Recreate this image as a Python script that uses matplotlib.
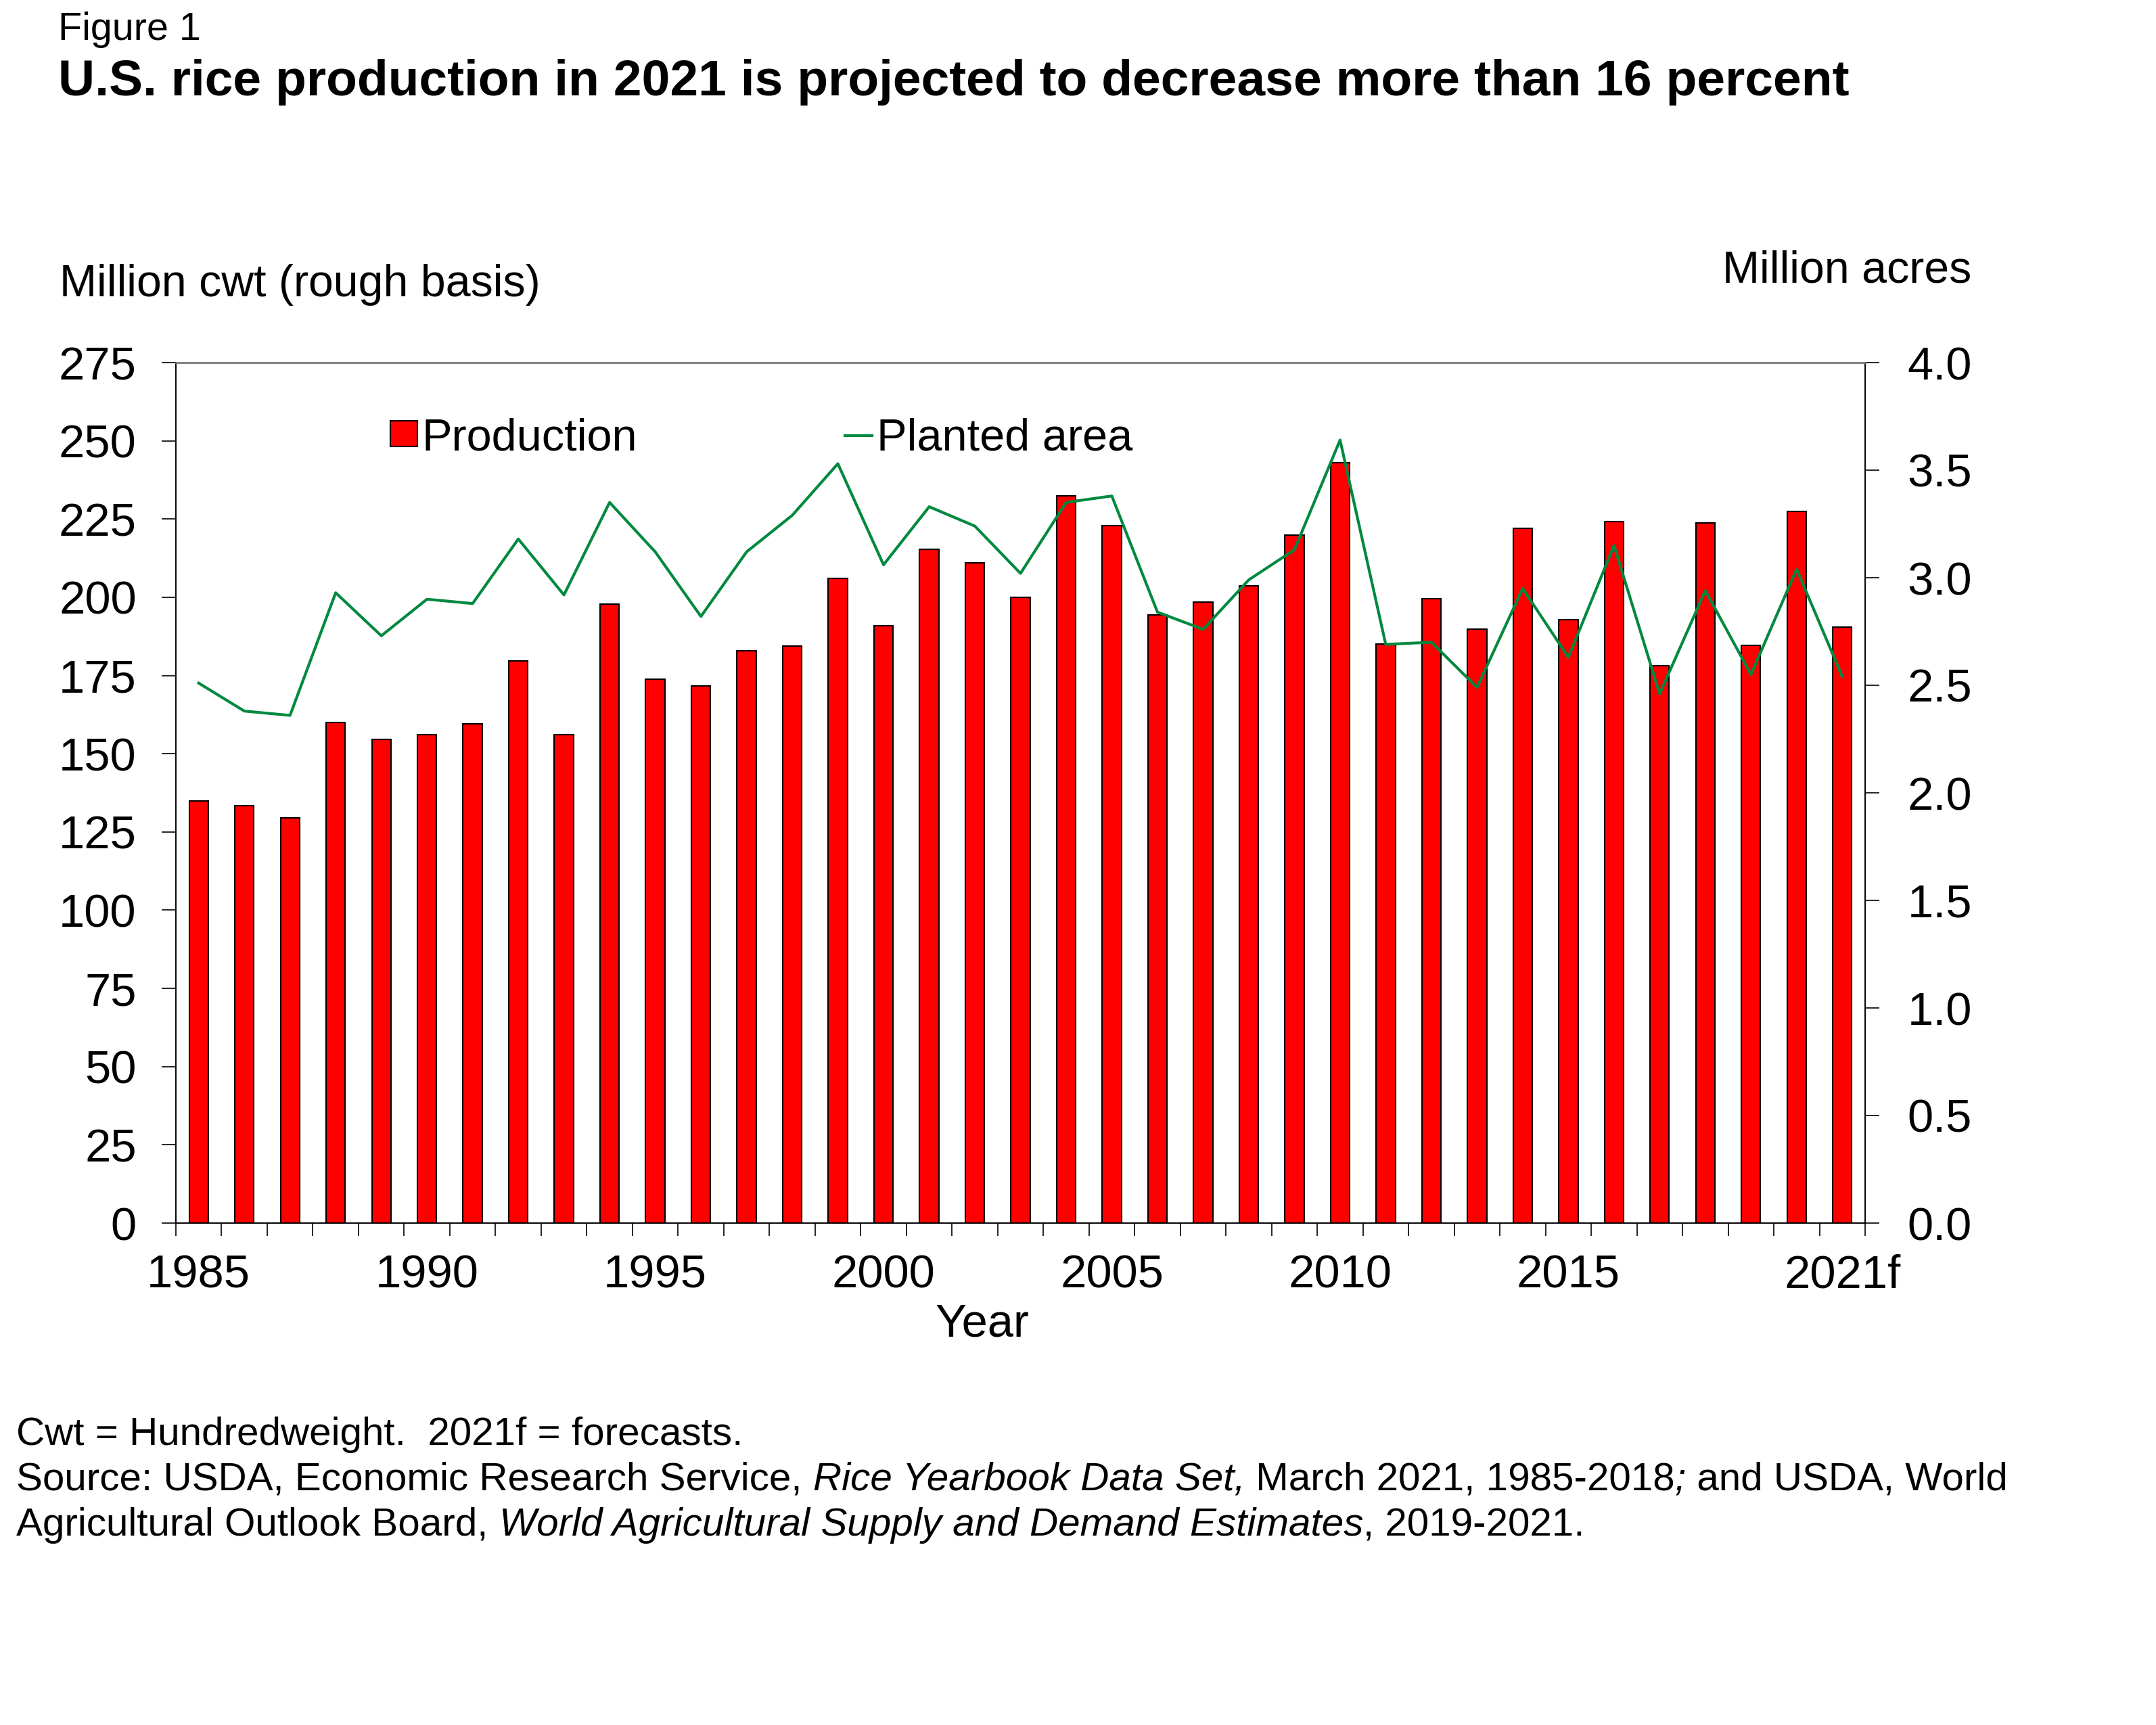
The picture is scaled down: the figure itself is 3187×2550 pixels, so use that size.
import matplotlib
matplotlib.use("Agg")
import matplotlib.pyplot as plt
from matplotlib.patches import Patch
from matplotlib.lines import Line2D

plt.rcParams.update({
    "font.family": ["Liberation Sans", "DejaVu Sans"],
    "axes.linewidth": 0.4,
})

years = list(range(1985, 2022))
production = [134.9, 133.4, 129.6, 159.9, 154.5, 156.1, 159.5, 179.7, 156.1, 197.8,
              173.9, 171.6, 183.0, 184.4, 206.0, 190.9, 215.3, 211.0, 199.9, 232.4,
              223.0, 194.3, 198.4, 203.7, 219.9, 243.1, 185.0, 199.5, 189.9, 222.1,
              192.9, 224.1, 178.2, 223.7, 184.7, 227.5, 190.4]
planted = [2.51, 2.38, 2.36, 2.93, 2.73, 2.90, 2.88, 3.18, 2.92, 3.35,
           3.12, 2.82, 3.12, 3.29, 3.53, 3.06, 3.33, 3.24, 3.02, 3.35,
           3.38, 2.84, 2.76, 2.99, 3.13, 3.64, 2.69, 2.70, 2.49, 2.95,
           2.63, 3.15, 2.46, 2.94, 2.55, 3.04, 2.54]
label_years = ["1985", "1990", "1995", "2000", "2005", "2010", "2015", "2021f"]
left_ticks = list(range(0, 276, 25))
right_ticks = [0.0, 0.5, 1.0, 1.5, 2.0, 2.5, 3.0, 3.5, 4.0]

W, H = 3187, 2550
fig = plt.figure(figsize=(W / 300, H / 300), dpi=300)
L, R, B, T = 260 / W, 2757 / W, 1 - 1808 / H, 1 - 536 / H
ax = fig.add_axes([L, B, R - L, T - B])
ax2 = ax.twinx()

RED, GRN = "#ff0000", "#00893f"
x = list(range(len(years)))
ax.bar(x, production, width=0.42, color=RED, edgecolor="black", linewidth=0.5, zorder=2)
ax2.plot(x, planted, color=GRN, lw=1.0, zorder=3)

ax.set_xlim(-0.5, len(years) - 0.5)
ax.set_ylim(0, 275)
ax2.set_ylim(0, 4)

# year labels on category centres, tick marks at category boundaries
lab_pos = [years.index(int(s[:4])) for s in label_years]
ax.set_xticks(lab_pos)
ax.set_xticklabels(label_years)
ax.set_xticks([i - 0.5 for i in range(len(years) + 1)], minor=True)
ax.tick_params(axis="x", which="major", length=0, pad=11, labelsize=16.5)
ax.tick_params(axis="x", which="minor", length=4.6, width=0.4, direction="out")

ax.set_yticks(left_ticks)
ax.tick_params(axis="y", length=5, width=0.4, direction="out", pad=9, labelsize=16.5)
ax2.set_yticks(right_ticks)
ax2.set_yticklabels([f"{v:.1f}" for v in right_ticks])
ax2.tick_params(axis="y", length=5, width=0.4, direction="out", pad=10, labelsize=16.5)

for a in (ax, ax2):
    a.spines["top"].set_color("#808080")
    a.spines["top"].set_linewidth(0.6)

# legend
handles = [Patch(facecolor=RED, edgecolor="black", linewidth=0.5),
           Line2D([], [], color=GRN, lw=1.0)]
fig.legend(handles, ["Production", "Planted area"], ncol=2, frameon=False,
           loc="center left", bbox_to_anchor=(577 / W, 1 - 648 / H),
           fontsize=16, handlelength=0.6, handleheight=0.5, handletextpad=0.1,
           columnspacing=4.6, borderpad=0, borderaxespad=0)

# titles and axis captions
fig.text(86 / W, 1 - 59 / H, "Figure 1", fontsize=13.8, va="baseline")
fig.text(86 / W, 1 - 141 / H,
         "U.S. rice production in 2021 is projected to decrease more than 16 percent",
         fontsize=18, fontweight="bold", va="baseline")
fig.text(88 / W, 1 - 438 / H, "Million cwt (rough basis)", fontsize=15.9, va="baseline")
fig.text(2914 / W, 1 - 417 / H, "Million acres", fontsize=15.9, va="baseline", ha="right")
fig.text(1452 / W, 1 - 1975 / H, "Year", fontsize=16.5, va="baseline", ha="center")

# notes with mixed italic runs
renderer = fig.canvas.get_renderer()


def runs(y_px, parts, size=14.0):
    xp = 24
    for txt, style in parts:
        t = fig.text(xp / W, 1 - y_px / H, txt, fontsize=size, style=style, va="baseline")
        xp += t.get_window_extent(renderer).width


runs(2136, [("Cwt = Hundredweight.  2021f = forecasts.", "normal")])
runs(2203, [("Source: USDA, Economic Research Service, ", "normal"),
            ("Rice Yearbook Data Set,", "italic"),
            (" March 2021, 1985-2018", "normal"),
            (";", "italic"),
            (" and USDA, World", "normal")])
runs(2270, [("Agricultural Outlook Board, ", "normal"),
            ("World Agricultural Supply and Demand Estimates", "italic"),
            (", 2019-2021.", "normal")])

fig.savefig("out.png", dpi=300)
